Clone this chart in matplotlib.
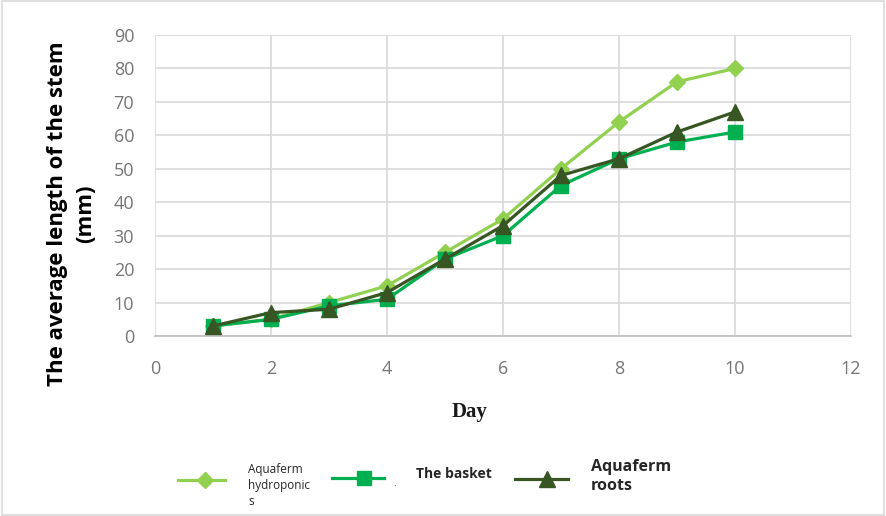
import matplotlib.pyplot as plt
from matplotlib.lines import Line2D
from matplotlib.patches import Rectangle

days = [1, 2, 3, 4, 5, 6, 7, 8, 9, 10]
hydroponics = [3, 5, 10, 15, 25, 35, 50, 64, 76, 80]
basket = [3, 5, 9, 11, 23, 30, 45, 53, 58, 61]
roots = [3, 7, 8, 13, 23, 33, 48, 53, 61, 67]

c_hydro = "#92D050"
c_basket = "#00B050"
c_roots = "#375623"
grid_c = "#D9D9D9"
tick_c = "#767676"

fig = plt.figure(figsize=(8.86, 5.16), dpi=100)
ax = fig.add_axes([0.1749, 0.3488, 0.7856, 0.5834])

ax.plot(days, hydroponics, color=c_hydro, lw=2.3, marker="D", ms=8, zorder=3)
ax.plot(days, basket, color=c_basket, lw=2.3, marker="s", ms=10, zorder=4)
ax.plot(days, roots, color=c_roots, lw=2.3, marker="^", ms=11, zorder=5)

ax.set_xlim(0, 12)
ax.set_ylim(0, 90)
ax.set_xticks(range(0, 13, 2))
ax.set_yticks(range(0, 91, 10))
ax.grid(True, color=grid_c, lw=1.2)
ax.set_axisbelow(True)
for s in ["top", "left", "right"]:
    ax.spines[s].set_visible(False)
ax.spines["bottom"].set_color("#BFBFBF")
ax.spines["bottom"].set_linewidth(1.2)
ax.tick_params(length=0, labelsize=13, labelcolor=tick_c)
ax.tick_params(axis="y", pad=15)
ax.tick_params(axis="x", pad=17)
for lab in ax.get_xticklabels() + ax.get_yticklabels():
    lab.set_family("Open Sans")

W, H = 886, 516
def fx(px):
    return px / W
def fy(py):
    return 1 - py / H

# axis titles
fig.text(fx(72), fy(214), "The average length of the stem\n(mm)", rotation=90,
         fontsize=16, fontweight="bold", family="Open Sans", ha="center",
         va="center", multialignment="center", linespacing=1.45, color="black")
fig.text(fx(470), fy(412), "Day", fontsize=15, fontweight="bold",
         family="Liberation Serif", ha="center", va="center", color="#1a1a1a")

# legend drawn by hand along the bottom
entries = [
    (178, 225, 205, 480, c_hydro, "D", 8),
    (332, 384, 364, 478, c_basket, "s", 10),
    (515, 568, 547, 479, c_roots, "^", 11),
]
for x0, x1, xm, yy, col, mk, ms in entries:
    fig.add_artist(Line2D([fx(x0), fx(x1)], [fy(yy), fy(yy)], color=col, lw=2.3,
                          transform=fig.transFigure))
    fig.add_artist(Line2D([fx(xm)], [fy(yy)], color=col, marker=mk, ms=ms,
                          transform=fig.transFigure))

fig.text(fx(248), fy(463), "Aquaferm\nhydroponic\ns", fontsize=8.5, family="Open Sans",
         color="#262626", va="top", linespacing=1.3)
fig.text(fx(416), fy(474), "The basket", fontsize=10, fontweight="bold",
         family="Open Sans", color="#262626", va="center")
fig.text(fx(393), fy(484), ".", fontsize=6, color="#262626", va="center")
fig.text(fx(591), fy(459), "Aquaferm\nroots", fontsize=11.5, fontweight="bold",
         family="Open Sans", color="#262626", va="top", linespacing=1.25)

fig.add_artist(Rectangle((0.002, 0.002), 0.996, 0.996, transform=fig.transFigure,
                         fill=False, edgecolor=grid_c, lw=1.2))

fig.savefig("out.png", dpi=100)
